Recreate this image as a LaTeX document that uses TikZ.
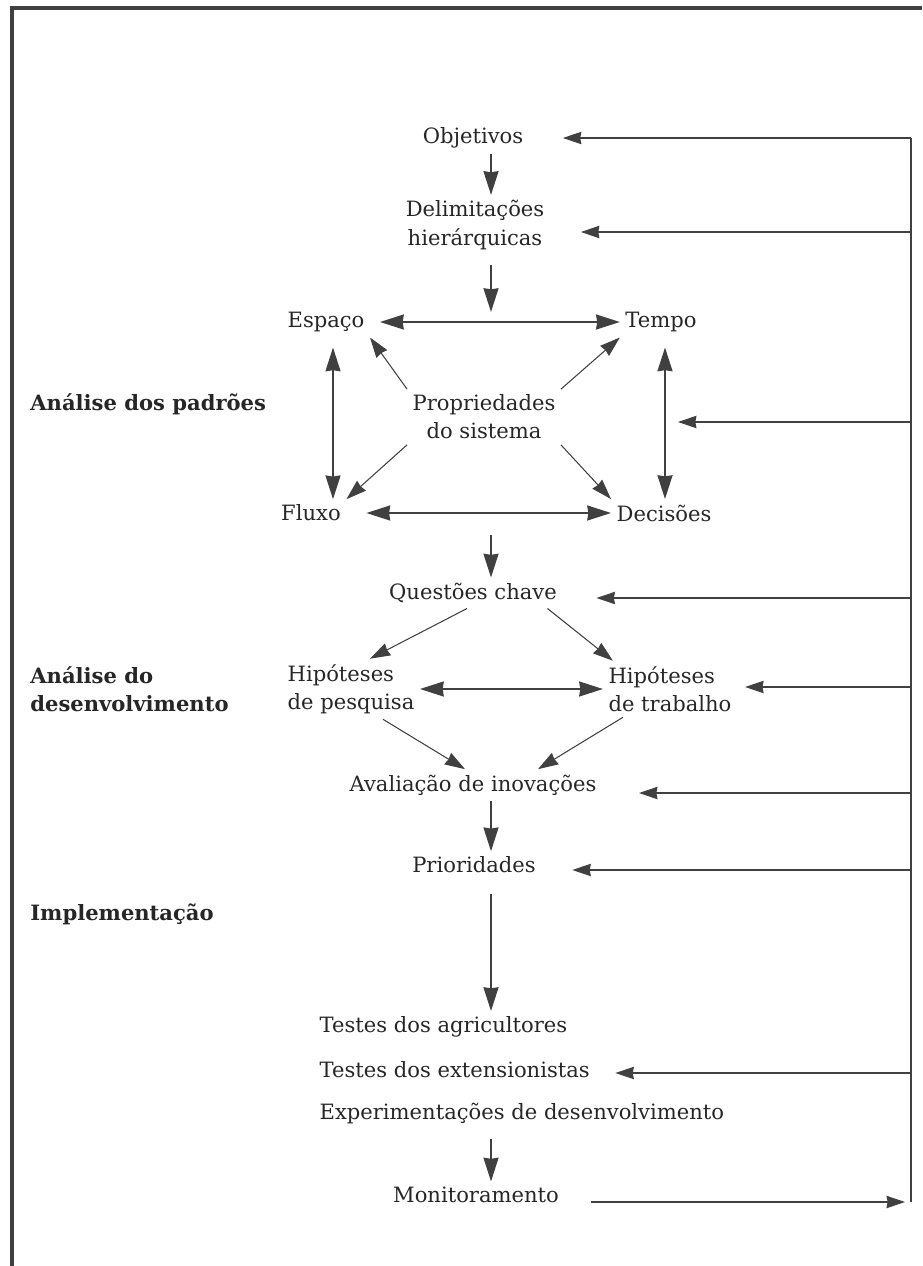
\documentclass[tikz,border=0pt]{standalone}
\usepackage{fontspec}
\setmainfont{DejaVu Serif}
\usetikzlibrary{arrows.meta}

\begin{document}
\begin{tikzpicture}[
    txt/.style={text=black!85, font=\fontsize{12}{16}\selectfont, inner sep=3pt},
    lbl/.style={text=black!85, font=\fontsize{12}{16}\selectfont\bfseries, anchor=west, align=left, inner sep=0pt},
    main/.style={color=black!75, line width=1.1pt, -{Stealth[length=13.5pt,width=8.5pt,inset=0.6pt]}},
    both/.style={main, {Stealth[length=13.5pt,width=8.5pt,inset=0.6pt]}-{Stealth[length=13.5pt,width=8.5pt,inset=0.6pt]}},
    thin/.style={color=black!75, line width=0.6pt, -{Stealth[length=11.5pt,width=7.5pt,inset=0.6pt]}},
    back/.style={color=black!75, line width=0.8pt, -{Stealth[length=10.5pt,width=7pt,inset=0.6pt]}},
]
    \useasboundingbox (0,0) rectangle (18.44,-25.32);
    \draw[black!75, line width=2pt] (18.44,-0.16) -- (0.24,-0.16) -- (0.24,-25.32);

    \node[txt] (obj) at (9.46,-2.76) {Objetivos};
    \node[txt, align=center] (del) at (9.50,-4.50) {Delimitações\\hierárquicas};
    \node[txt] (esp) at (6.52,-6.44) {Espaço};
    \node[txt] (tem) at (13.22,-6.44) {Tempo};
    \node[txt, align=center] (prop) at (9.68,-8.34) {Propriedades\\do sistema};
    \node[txt] (flu) at (6.22,-10.26) {Fluxo};
    \node[txt] (dec) at (13.28,-10.26) {Decisões};
    \node[txt] (que) at (9.46,-11.86) {Questões chave};
    \node[txt, align=left] (hp) at (7.02,-13.78) {Hipóteses\\de pesquisa};
    \node[txt, align=left] (ht) at (13.40,-13.78) {Hipóteses\\de trabalho};
    \node[txt] (ava) at (9.46,-15.70) {Avaliação de inovações};
    \node[txt] (pri) at (9.48,-17.30) {Prioridades};
    \node[txt, anchor=west] (ta) at (6.28,-20.54) {Testes dos agricultores};
    \node[txt, anchor=west] (te) at (6.28,-21.40) {Testes dos extensionistas};
    \node[txt, anchor=west] (ex) at (6.28,-22.26) {Experimentações de desenvolvimento};
    \node[txt] (mon) at (9.52,-23.90) {Monitoramento};

    \node[lbl] (pad) at (0.60,-8.08) {Análise dos padrões};
    \node[lbl] (dsv) at (0.60,-13.78) {Análise do\\desenvolvimento};
    \node[lbl] (imp) at (0.60,-18.28) {Implementação};

    \coordinate (ax) at (9.82,0);
    \coordinate (bx) at (6.66,0);
    \coordinate (cx) at (13.30,0);
    \coordinate (et) at (9.82,-6.24);
    \coordinate (fd) at (9.82,-10.70);

    \coordinate (r1) at (18.22,-2.76);
    \coordinate (r2) at (18.22,-4.64);
    \coordinate (r3) at (18.22,-8.44);
    \coordinate (r4) at (18.22,-11.96);
    \coordinate (r5) at (18.22,-13.74);
    \coordinate (r6) at (18.22,-15.86);
    \coordinate (r7) at (18.22,-17.40);
    \coordinate (r8) at (18.22,-21.46);
    \coordinate (r9) at (18.22,-24.04);

    \path [main] (obj.south -| ax) edge (del.north -| ax);
    \path [main] (del.south -| ax) edge [shorten <=0.2cm] (et);
    \path [both] (esp.east) edge [shorten <=0.2cm] (tem.west);
    \path [both] (esp.south -| bx) edge [shorten <=0.2cm] (flu.north -| bx);
    \path [both] (tem.south -| cx) edge [shorten <=0.2cm] (dec.north -| cx);
    \path [both] (flu.east) edge [shorten <=0.4cm] (dec.west);
    \path [thin] (prop.north west) edge (esp.south east);
    \path [thin] (prop.north east) edge (tem.south west);
    \path [thin] (prop.south west) edge (flu.north east);
    \path [thin] (prop.south east) edge (dec.north west);
    \path [main] (fd) edge (que.north -| ax);
    \path [thin] ([xshift=-0.12cm]que.south) edge ([xshift=0.38cm]hp.north);
    \path [thin] ([xshift=-0.3cm]que.south east) edge ([xshift=0.2cm]ht.north west);
    \path [both] (hp.east) edge (ht.west);
    \path [thin] ([xshift=0.64cm]hp.south) edge ([xshift=-0.16cm]ava.north);
    \path [thin] ([xshift=-0.94cm]ht.south) edge ([xshift=1.3cm]ava.north);
    \path [main] (ava.south -| ax) edge (pri.north -| ax);
    \path [main] (pri.south -| ax) edge [shorten <=0.3cm] (ta.north -| ax);
    \path [main] (ex.south -| ax) edge [shorten <=0.2cm] (mon.north -| ax);

    % feedback
    \draw [black!75, line width=0.75pt] (r1) -- (r9);
    \path [back] (r1) edge [shorten >=0.68cm] (r1 -| obj.east);
    \path [back] (r2) edge [shorten >=0.62cm] (r2 -| del.east);
    \path [back] (r3) edge [shorten >=2.34cm] (r3 -| prop.east);
    \path [back] (r4) edge [shorten >=0.68cm] (r4 -| que.east);
    \path [back] (r5) edge [shorten >=0.16cm] (r5 -| ht.east);
    \path [back] (r6) edge [shorten >=0.74cm] (r6 -| ava.east);
    \path [back] (r7) edge [shorten >=0.62cm] (r7 -| pri.east);
    \path [back] (r8) edge [shorten >=0.40cm] (r8 -| te.east);
    \path [back] (r9 -| mon.east) edge [shorten <=0.54cm, shorten >=0.12cm] (r9);
\end{tikzpicture}
\end{document}
